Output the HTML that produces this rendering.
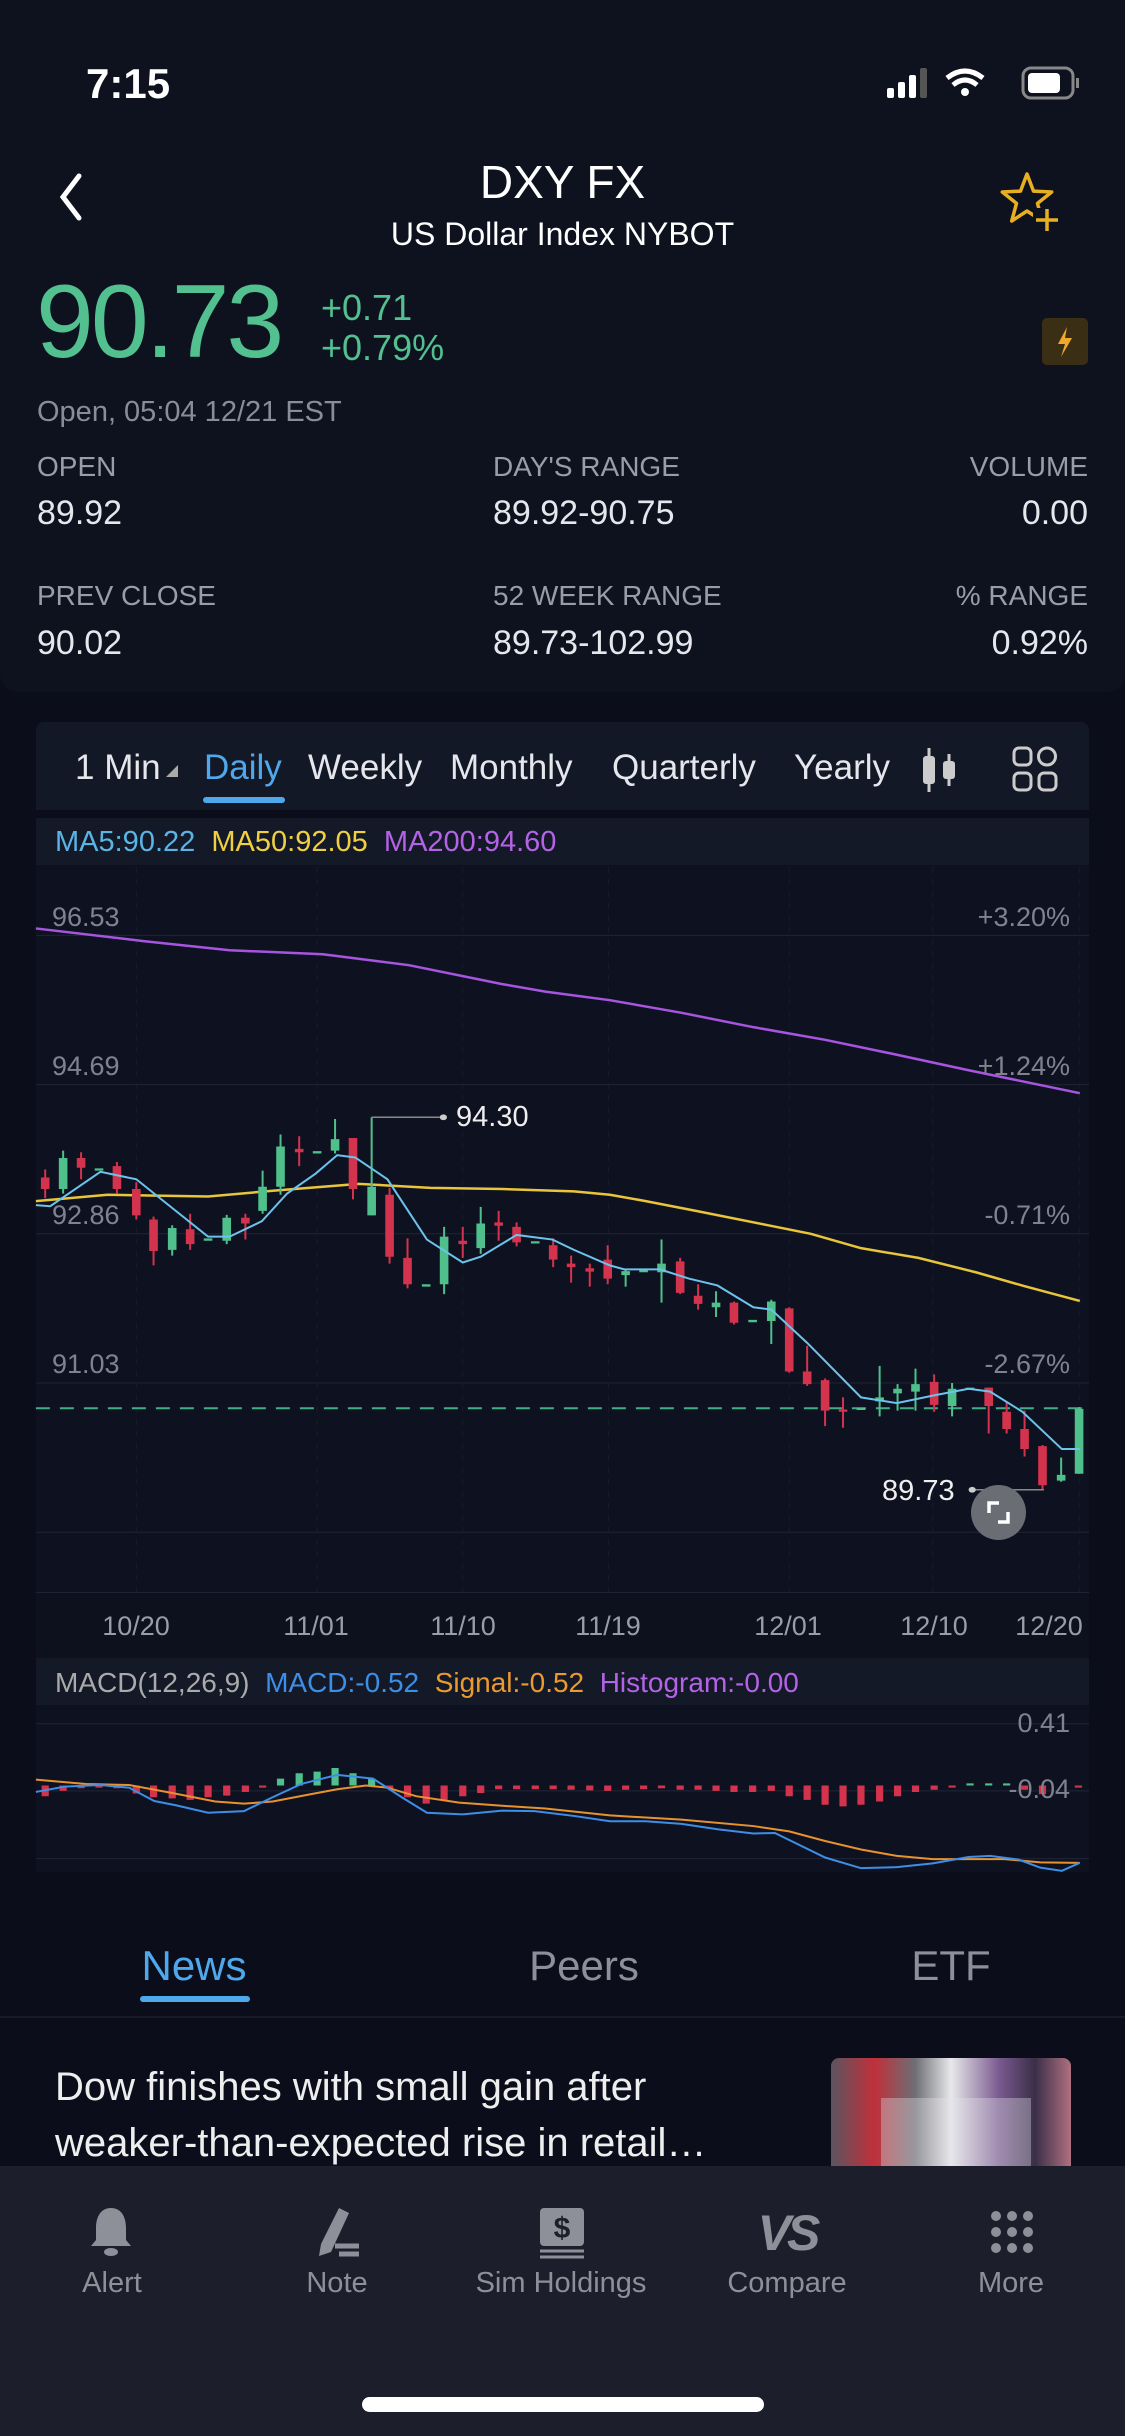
<!DOCTYPE html>
<html><head><meta charset="utf-8"><style>
*{margin:0;padding:0;box-sizing:border-box}
body{width:1125px;height:2436px;background:#0b0e1a;position:relative;overflow:hidden;font-family:"Liberation Sans",sans-serif;color:#e8e9ee}
.a{position:absolute;white-space:nowrap}
.lbl{font-size:28px;color:#9a9ca8}
.val{font-size:34px;color:#e6e7ec}
.yl{font-size:27px;color:#80838f}
.dt{font-size:27px;color:#9a9ca8;transform:translateX(-50%)}
.nav{font-size:29px;color:#8e9099;transform:translateX(-50%)}
</style></head><body>
<div class="a" style="left:0;top:0;width:1125px;height:692px;background:#0e121f;border-radius:0 0 18px 18px"></div>
<div class="a" style="left:86px;top:60px;font-size:42px;font-weight:bold;color:#fff">7:15</div>
<svg class="a" style="left:885px;top:66px" width="210" height="36" viewBox="0 0 210 36">
<rect x="2" y="22" width="7" height="10" rx="2" fill="#fff"/><rect x="13" y="16" width="7" height="16" rx="2" fill="#fff"/><rect x="24" y="9" width="7" height="23" rx="2" fill="#fff"/><rect x="35" y="2" width="7" height="30" rx="2" fill="#555"/>
<path d="M62 12 Q80 -2 98 12" stroke="#fff" stroke-width="5" fill="none"/><path d="M68 19 Q80 9 92 19" stroke="#fff" stroke-width="5" fill="none"/><circle cx="80" cy="26" r="4" fill="#fff"/>
<rect x="138" y="2" width="50" height="30" rx="8" stroke="#888" stroke-width="3" fill="none"/><rect x="143" y="7" width="32" height="20" rx="4" fill="#fff"/><rect x="191" y="12" width="3" height="10" fill="#888"/>
</svg>
<svg class="a" style="left:55px;top:172px" width="30" height="50"><path d="M24 4 L8 25 L24 46" stroke="#fff" stroke-width="5" fill="none" stroke-linecap="round"/></svg>
<div class="a" style="left:0;width:1125px;top:155px;text-align:center;font-size:46px;color:#fff">DXY FX</div>
<div class="a" style="left:0;width:1125px;top:216px;text-align:center;font-size:32px;color:#fff">US Dollar Index NYBOT</div>
<svg class="a" style="left:997px;top:170px" width="66" height="62" viewBox="0 0 66 62"><path d="M30 4 L36.5 21.1 L54.7 22 L40.5 33.4 L45.3 51 L30 41 L14.7 51 L19.5 33.4 L5.3 22 L23.5 21.1 Z" stroke="#e8b021" stroke-width="3.5" fill="none" stroke-linejoin="round"/><rect x="36" y="38" width="26" height="24" fill="#0e121f"/><path d="M39 50H61M50 39V61" stroke="#e8b021" stroke-width="3.5"/></svg>
<div class="a" style="left:36px;top:270px;font-size:104px;color:#52c08f;letter-spacing:-3px;line-height:1">90.73</div>
<div class="a" style="left:321px;top:287px;font-size:36px;color:#52c08f">+0.71</div>
<div class="a" style="left:321px;top:327px;font-size:36px;color:#52c08f">+0.79%</div>
<div class="a" style="left:1042px;top:318px;width:46px;height:47px;background:#3a2f14;border-radius:5px"></div>
<svg class="a" style="left:1052px;top:325px" width="26" height="34"><path d="M15 2 L6 19 H13 L9 32 L20 13 H13 Z" fill="#f0a82a"/></svg>
<div class="a" style="left:37px;top:396px;font-size:29px;color:#8a8d99">Open, 05:04 12/21 EST</div>
<div class="a lbl" style="left:37px;top:451px">OPEN</div>
<div class="a lbl" style="left:493px;top:451px">DAY'S RANGE</div>
<div class="a lbl" style="right:37px;top:451px">VOLUME</div>
<div class="a val" style="left:37px;top:494px">89.92</div>
<div class="a val" style="left:493px;top:494px">89.92-90.75</div>
<div class="a val" style="right:37px;top:494px">0.00</div>
<div class="a lbl" style="left:37px;top:580px">PREV CLOSE</div>
<div class="a lbl" style="left:493px;top:580px">52 WEEK RANGE</div>
<div class="a lbl" style="right:37px;top:580px">% RANGE</div>
<div class="a val" style="left:37px;top:624px">90.02</div>
<div class="a val" style="left:493px;top:624px">89.73-102.99</div>
<div class="a val" style="right:37px;top:624px">0.92%</div>

<div class="a" style="left:36px;top:722px;width:1053px;height:88px;background:#131827;border-radius:8px 8px 0 0"></div>
<div class="a" style="left:75px;top:748px;font-size:35px;color:#e6e7ec">1 Min</div>
<svg class="a" style="left:166px;top:765px" width="12" height="12"><path d="M12 0V12H0Z" fill="#aaa"/></svg>
<div class="a" style="left:204px;top:748px;font-size:35px;color:#4fa8ec">Daily</div>
<div class="a" style="left:203px;top:797px;width:82px;height:6px;border-radius:3px;background:#4fa8ec"></div>
<div class="a" style="left:308px;top:748px;font-size:35px;color:#e6e7ec">Weekly</div>
<div class="a" style="left:450px;top:748px;font-size:35px;color:#e6e7ec">Monthly</div>
<div class="a" style="left:612px;top:748px;font-size:35px;color:#e6e7ec">Quarterly</div>
<div class="a" style="left:794px;top:748px;font-size:35px;color:#e6e7ec">Yearly</div>
<svg class="a" style="left:918px;top:746px" width="42" height="48"><path d="M11 2V46M31 8V40" stroke="#ccc" stroke-width="3"/><rect x="5" y="10" width="12" height="28" rx="3" fill="#ccc"/><rect x="25" y="15" width="12" height="18" rx="3" fill="#ccc"/></svg>
<svg class="a" style="left:1012px;top:746px" width="46" height="46" fill="none" stroke="#ccc" stroke-width="3"><rect x="2" y="2" width="17" height="17" rx="5"/><circle cx="35" cy="10.5" r="8.5"/><rect x="2" y="27" width="17" height="17" rx="5"/><rect x="27" y="27" width="17" height="17" rx="5"/></svg>

<div class="a" style="left:36px;top:818px;width:1053px;height:47px;background:#141928"></div>
<div class="a" style="left:55px;top:826px;font-size:29px"><span style="color:#5ab4e6">MA5:90.22</span>&nbsp; <span style="color:#f0d040">MA50:92.05</span>&nbsp; <span style="color:#b463e6">MA200:94.60</span></div>
<div class="a" style="left:36px;top:865px;width:1053px;height:728px;background:#0e1220"></div>

<svg class="a" style="left:0;top:700px" width="1125" height="900" viewBox="0 0 1568 1568" preserveAspectRatio="none">
<g stroke="#1f2433" stroke-width="1" vector-effect="non-scaling-stroke">
<path d="M50 410H1518M50 670H1518M50 930H1518M50 1190H1518M50 1450H1518M50 1555H1518" vector-effect="non-scaling-stroke"/>
<path d="M190 290V1555M442 290V1555M645 290V1555M848 290V1555M1100 290V1555M1300 290V1555M1505 290V1555" stroke-dasharray="6 6" stroke="#181c2a" vector-effect="non-scaling-stroke"/>
</g>
<path d="M50 1234H1518" stroke="#3fae86" stroke-width="2" stroke-dasharray="14 10" vector-effect="non-scaling-stroke"/>
<polyline fill="none" stroke="#a755e0" stroke-width="2.5" vector-effect="non-scaling-stroke" points="50,398 200,420 320,436 450,443 570,462 700,495 760,508 850,523 950,545 1050,570 1150,592 1250,618 1350,645 1505,685"/>
<polyline fill="none" stroke="#e8c53a" stroke-width="2.5" vector-effect="non-scaling-stroke" points="50,873 150,862 290,865 380,855 450,848 500,843 600,850 700,852 800,856 850,862 900,873 970,890 1070,915 1130,930 1200,955 1280,972 1360,997 1430,1022 1505,1047"/>
<path fill="none" stroke="#d4334e" stroke-width="2" vector-effect="non-scaling-stroke" d="M63 818V868M113 788V835M163 805V860M190 840V905M214 900V985M265 895V958M342 895V940M417 760V812M492 763V870M543 850V982M568 938V1025M645 918V972M695 890V942M720 910V952M771 938V988M796 968V1015M822 982V1022M847 950V1018M948 972V1035M973 1018V1062M1023 1048V1088M1100 1058V1172M1125 1125V1195M1150 1182V1265M1175 1215V1268M1302 1175V1240M1378 1198V1278M1403 1222V1278M1428 1238V1318M1453 1298V1375"/>
<path fill="#d4334e" d="M57 832h12v20h-12zM107 798h12v17h-12zM157 812h12v40h-12zM184 852h12v46h-12zM208 905h12v55h-12zM259 922h12v26h-12zM336 902h12v10h-12zM411 782h12v6h-12zM486 763h12v89h-12zM537 862h12v108h-12zM562 972h12v46h-12zM639 942h12v6h-12zM689 910h12v6h-12zM714 918h12v27h-12zM765 950h12v25h-12zM790 982h12v6h-12zM816 990h12v6h-12zM841 975h12v33h-12zM942 978h12v55h-12zM967 1038h12v14h-12zM1017 1050h12v35h-12zM1094 1060h12v110h-12zM1119 1170h12v22h-12zM1144 1185h12v53h-12zM1169 1236h12v4h-12zM1296 1188h12v40h-12zM1372 1198h12v32h-12zM1397 1240h12v30h-12zM1422 1270h12v35h-12zM1447 1300h12v68h-12z"/>
<path fill="none" stroke="#4fbf8c" stroke-width="2" vector-effect="non-scaling-stroke" d="M88 785V860M240 915V968M316 897V948M366 820V895M391 757V862M467 730V790M518 727V898M619 918V1035M670 883V965M872 992V1022M922 940V1050M998 1030V1075M1075 1045V1122M1226 1160V1248M1251 1192V1238M1276 1165V1238M1327 1190V1248M1479 1320V1362M1504 1232V1348"/>
<path fill="#4fbf8c" d="M82 798h12v54h-12zM132 816h12v4h-12zM234 920h12v38h-12zM284 938h12v4h-12zM310 902h12v40h-12zM360 848h12v42h-12zM385 778h12v70h-12zM436 786h12v4h-12zM461 765h12v20h-12zM512 848h12v50h-12zM588 1018h12v4h-12zM613 935h12v83h-12zM664 912h12v43h-12zM740 943h12v4h-12zM866 995h12v7h-12zM891 993h12v4h-12zM916 982h12v15h-12zM992 1050h12v8h-12zM1043 1080h12v4h-12zM1069 1048h12v34h-12zM1194 1233h12v4h-12zM1220 1215h12v7h-12zM1245 1200h12v8h-12zM1270 1192h12v13h-12zM1321 1200h12v30h-12zM1346 1198h12v4h-12zM1473 1350h12v10h-12zM1498 1235h12v113h-12z"/>
<polyline fill="none" stroke="#6cc3ec" stroke-width="2" vector-effect="non-scaling-stroke" points="50,880 70,882 140,822 190,835 240,885 290,935 320,935 365,908 400,860 440,825 470,793 495,797 540,835 595,940 645,980 670,970 720,932 770,940 800,958 850,985 870,992 920,992 960,1008 1000,1020 1050,1058 1075,1062 1125,1120 1200,1215 1250,1225 1300,1212 1350,1200 1380,1205 1425,1240 1480,1305 1505,1305"/>
<path d="M518 727H618M1355 1376H1455" stroke="#888" stroke-width="1.5" fill="none" vector-effect="non-scaling-stroke"/>
<ellipse cx="618" cy="727" rx="5" ry="5" fill="#ccc"/><ellipse cx="1355" cy="1376" rx="5" ry="5" fill="#ccc"/>
</svg>
<div class="a" style="left:456px;top:1101px;font-size:29px;color:#eee">94.30</div>
<div class="a" style="left:882px;top:1475px;font-size:29px;color:#eee">89.73</div>
<div class="a" style="left:971px;top:1485px;width:55px;height:55px;border-radius:50%;background:#6b6d75"></div>
<svg class="a" style="left:983px;top:1497px" width="31" height="31"><path d="M6 16V6H16M25 15V25H15" stroke="#fff" stroke-width="3.5" fill="none"/></svg>
<div class="a yl" style="left:52px;top:902px">96.53</div>
<div class="a yl" style="left:52px;top:1051px">94.69</div>
<div class="a yl" style="left:52px;top:1200px">92.86</div>
<div class="a yl" style="left:52px;top:1349px">91.03</div>
<div class="a yl" style="right:55px;top:902px">+3.20%</div>
<div class="a yl" style="right:55px;top:1051px">+1.24%</div>
<div class="a yl" style="right:55px;top:1200px">-0.71%</div>
<div class="a yl" style="right:55px;top:1349px">-2.67%</div>

<div class="a" style="left:36px;top:1593px;width:1053px;height:65px;background:#0d111e"></div>
<div class="a dt" style="left:136px;top:1611px">10/20</div>
<div class="a dt" style="left:316px;top:1611px">11/01</div>
<div class="a dt" style="left:463px;top:1611px">11/10</div>
<div class="a dt" style="left:608px;top:1611px">11/19</div>
<div class="a dt" style="left:788px;top:1611px">12/01</div>
<div class="a dt" style="left:934px;top:1611px">12/10</div>
<div class="a dt" style="left:1049px;top:1611px">12/20</div>

<div class="a" style="left:36px;top:1658px;width:1053px;height:47px;background:#141928"></div>
<div class="a" style="left:55px;top:1667px;font-size:28px"><span style="color:#aaa">MACD(12,26,9)</span>&nbsp; <span style="color:#3d8ee6">MACD:-0.52</span>&nbsp; <span style="color:#eb9a2e">Signal:-0.52</span>&nbsp; <span style="color:#b463e6">Histogram:-0.00</span></div>
<div class="a" style="left:36px;top:1705px;width:1053px;height:167px;background:#0e1220"></div>
<svg class="a" style="left:0;top:1600px" width="1125" height="836" viewBox="0 0 1568 1568" preserveAspectRatio="none">
<path d="M50 232H1518M50 358H1518M50 485H1518" stroke="#202536" stroke-width="1" vector-effect="non-scaling-stroke"/>
<path fill="#d4334e" d="M58 348h10v20h-10zM83 348h10v10h-10zM108 348h10v5h-10zM133 348h10v4h-10zM158 348h10v5h-10zM185 348h10v15h-10zM209 348h10v22h-10zM235 348h10v24h-10zM260 348h10v27h-10zM285 348h10v22h-10zM311 348h10v19h-10zM337 348h10v12h-10zM361 348h10v4h-10zM538 348h10v6h-10zM563 348h10v22h-10zM589 348h10v34h-10zM614 348h10v27h-10zM640 348h10v20h-10zM665 348h10v14h-10zM690 348h10v7h-10zM715 348h10v7h-10zM741 348h10v7h-10zM766 348h10v7h-10zM791 348h10v8h-10zM817 348h10v9h-10zM842 348h10v10h-10zM867 348h10v8h-10zM892 348h10v7h-10zM917 348h10v5h-10zM943 348h10v8h-10zM968 348h10v8h-10zM993 348h10v10h-10zM1018 348h10v12h-10zM1044 348h10v12h-10zM1070 348h10v10h-10zM1095 348h10v20h-10zM1120 348h10v27h-10zM1145 348h10v36h-10zM1170 348h10v39h-10zM1195 348h10v36h-10zM1221 348h10v30h-10zM1246 348h10v20h-10zM1271 348h10v12h-10zM1297 348h10v8h-10zM1322 348h10v4h-10zM1423 348h10v8h-10zM1448 348h10v16h-10zM1498 348h10v4h-10z"/>
<path fill="#4fbf8c" d="M386 335h10v13h-10zM412 325h10v23h-10zM437 322h10v26h-10zM462 315h10v33h-10zM487 325h10v23h-10zM513 335h10v13h-10zM1347 344h10v4h-10zM1373 344h10v4h-10zM1398 344h10v4h-10z"/>
<polyline fill="none" stroke="#e8922e" stroke-width="2" vector-effect="non-scaling-stroke" points="50,337 120,345 180,347 240,362 300,378 340,382 380,378 430,365 470,355 510,348 540,352 580,368 640,380 700,386 760,391 850,404 950,412 1050,424 1100,434 1150,452 1200,468 1250,480 1300,486 1400,486 1450,492 1505,493"/>
<polyline fill="none" stroke="#3d8ee6" stroke-width="2" vector-effect="non-scaling-stroke" points="50,360 90,350 140,347 180,352 215,377 245,385 290,399 340,396 380,370 420,345 470,328 520,335 560,370 595,399 645,402 700,395 745,396 800,405 850,415 900,415 950,420 1000,430 1050,438 1080,437 1150,483 1200,503 1250,501 1300,494 1350,482 1380,480 1420,487 1450,502 1480,508 1505,493"/>
</svg>
<div class="a yl" style="right:55px;top:1708px">0.41</div>
<div class="a yl" style="right:55px;top:1774px">-0.04</div>

<div class="a" style="left:194px;top:1942px;font-size:42px;color:#4fa8ec;transform:translateX(-50%)">News</div>
<div class="a" style="left:140px;top:1996px;width:110px;height:6px;border-radius:3px;background:#4fa8ec"></div>
<div class="a" style="left:584px;top:1942px;font-size:42px;color:#8e9099;transform:translateX(-50%)">Peers</div>
<div class="a" style="left:951px;top:1942px;font-size:42px;color:#8e9099;transform:translateX(-50%)">ETF</div>
<div class="a" style="left:0;top:2016px;width:1125px;height:2px;background:#171b28"></div>
<div class="a" style="left:55px;top:2065px;font-size:40px;color:#eee">Dow finishes with small gain after</div>
<div class="a" style="left:55px;top:2121px;font-size:40px;color:#eee">weaker-than-expected rise in retail…</div>
<div class="a" style="left:831px;top:2058px;width:240px;height:108px;border-radius:8px 8px 0 0;overflow:hidden;background:linear-gradient(90deg,#5a5560 0%,#c0303a 18%,#6d6e74 35%,#e8e8ea 50%,#7a5a90 70%,#3a2f48 85%,#b07080 100%)">
<div style="position:absolute;left:50px;top:40px;width:150px;height:68px;background:rgba(230,230,235,.35)"></div></div>

<div class="a" style="left:0;top:2166px;width:1125px;height:270px;background:#1c1f2b"></div>
<svg class="a" style="left:88px;top:2204px" width="46" height="56"><path d="M23 4C12 4 8 14 8 24V36L3 42H43L38 36V24C38 14 34 4 23 4Z" fill="#8e9099"/><ellipse cx="23" cy="48" rx="7" ry="4" fill="#8e9099"/></svg>
<svg class="a" style="left:313px;top:2204px" width="50" height="56"><path d="M26 4L36 9L18 48L6 52L8 40Z" fill="#8e9099"/><path d="M22 42H46M26 50H46" stroke="#8e9099" stroke-width="5"/></svg>
<svg class="a" style="left:537px;top:2206px" width="50" height="54"><rect x="3" y="2" width="44" height="38" rx="4" fill="#8e9099"/><text x="25" y="32" font-size="30" font-weight="bold" text-anchor="middle" fill="#1c1f2b" font-family="Liberation Sans,sans-serif">$</text><path d="M3 45H47M3 51H47" stroke="#8e9099" stroke-width="3"/></svg>
<div class="a" style="left:787px;top:2204px;transform:translateX(-50%);font-size:50px;font-weight:bold;font-style:italic;color:#8e9099;letter-spacing:-4px">VS</div>
<svg class="a" style="left:990px;top:2210px" width="44" height="44" fill="#8e9099"><circle cx="6" cy="6" r="5"/><circle cx="22" cy="6" r="5"/><circle cx="38" cy="6" r="5"/><circle cx="6" cy="22" r="5"/><circle cx="22" cy="22" r="5"/><circle cx="38" cy="22" r="5"/><circle cx="6" cy="38" r="5"/><circle cx="22" cy="38" r="5"/><circle cx="38" cy="38" r="5"/></svg>
<div class="a nav" style="left:112px;top:2267px">Alert</div>
<div class="a nav" style="left:337px;top:2267px">Note</div>
<div class="a nav" style="left:561px;top:2267px">Sim Holdings</div>
<div class="a nav" style="left:787px;top:2267px">Compare</div>
<div class="a nav" style="left:1011px;top:2267px">More</div>
<div class="a" style="left:362px;top:2397px;width:402px;height:15px;border-radius:8px;background:#fff"></div>
</body></html>
